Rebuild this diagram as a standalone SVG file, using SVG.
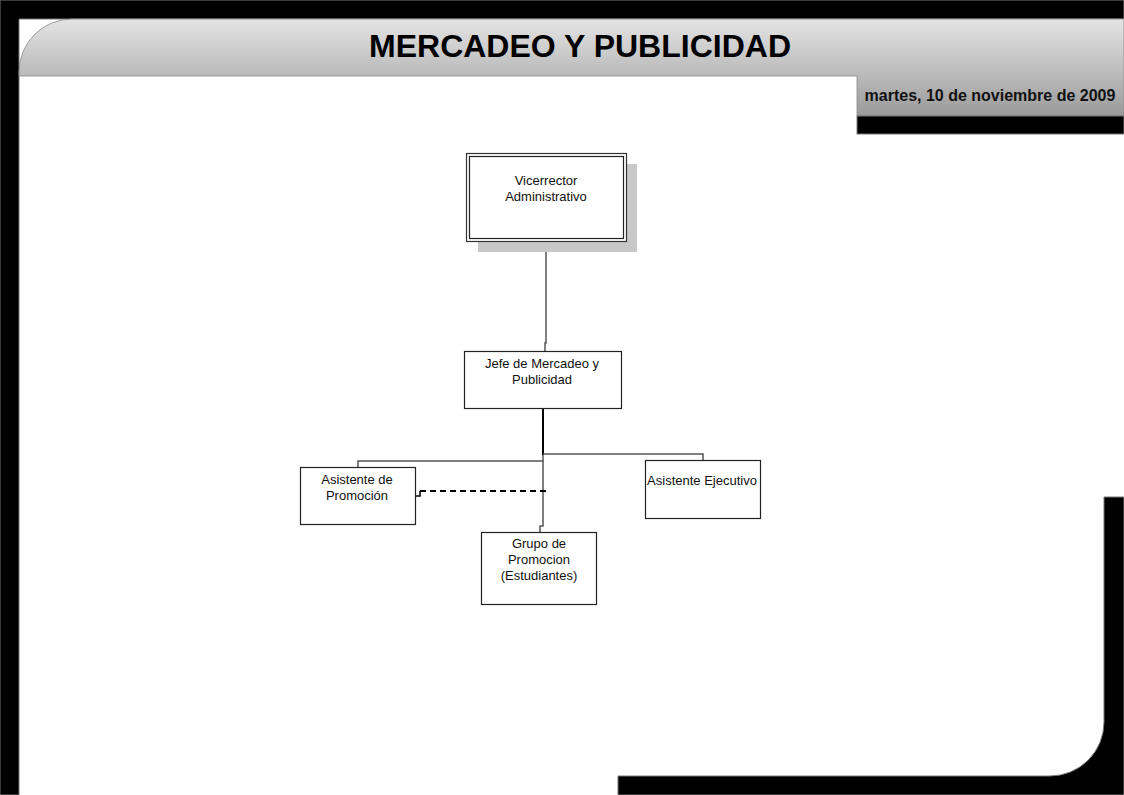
<svg xmlns="http://www.w3.org/2000/svg" width="1124" height="795" viewBox="0 0 1124 795">
<defs>
<linearGradient id="hdr" x1="0" y1="19" x2="0" y2="116" gradientUnits="userSpaceOnUse">
<stop offset="0" stop-color="#e4e4e4"/>
<stop offset="0.55" stop-color="#bcbcbc"/>
<stop offset="1" stop-color="#9a9a9a"/>
</linearGradient>
<style>
.frame{fill:#000;stroke:#777;stroke-width:1}
.box{fill:#fff;stroke:#222;stroke-width:1.2}
.lbl{font-family:"Liberation Sans",Arial,sans-serif;font-size:13px;fill:#111;text-anchor:middle}
.conn{fill:none;stroke:#555;stroke-width:1.5}
</style>
</defs>
<rect width="1124" height="795" fill="#fff"/>
<g id="frame">
<path class="frame" d="M0,0 H1124 V19 H19 V795 H0 Z"/>
<path d="M19,76 V72 A53,53 0 0 1 72,19 H1124 V116 H857 V76 Z" fill="url(#hdr)" stroke="#888" stroke-width="0.8"/>
<rect class="frame" x="857" y="116" width="267" height="18"/>
<path class="frame" d="M1104,497 H1124 V795 H618 V776 H1050 A54,54 0 0 0 1104,722 Z"/>
<text x="580" y="57" font-family="Liberation Sans,Arial,sans-serif" font-weight="bold" font-size="32" text-anchor="middle" fill="#000">MERCADEO Y PUBLICIDAD</text>
<text x="990" y="101" font-family="Liberation Sans,Arial,sans-serif" font-weight="bold" font-size="16" text-anchor="middle" fill="#111">martes, 10 de noviembre de 2009</text>
</g>
<g id="connectors">
<path class="conn" d="M546,241 V343 H545 V351"/>
<path fill="none" stroke="#000" stroke-width="2" d="M543,408 V455"/>
<path class="conn" d="M543,454 H703 V460"/>
<path class="conn" d="M543,455 V461 H358 V467"/>
<path class="conn" d="M543,461 V526 H540 V532"/>
<path fill="none" stroke="#000" stroke-width="1.5" d="M415,496 H420 V491"/>
<path fill="none" stroke="#000" stroke-width="2" stroke-dasharray="6,4" d="M420,491 H545 L547,494"/>
</g>
<g id="n-vicerrector">
<rect x="478" y="164" width="159" height="88" fill="#c8c8c8"/>
<rect x="466.5" y="153.5" width="160" height="88" fill="#fff" stroke="#333" stroke-width="1.2"/>
<rect x="469.5" y="156.5" width="154" height="82" fill="none" stroke="#222" stroke-width="1.2"/>
<text class="lbl" x="546" y="185">Vicerrector</text>
<text class="lbl" x="546" y="201">Administrativo</text>
</g>
<g id="n-jefe">
<rect class="box" x="464.5" y="351.5" width="157" height="57"/>
<text class="lbl" x="542" y="368">Jefe de Mercadeo y</text>
<text class="lbl" x="542" y="384">Publicidad</text>
</g>
<g id="n-asistente-promocion">
<rect class="box" x="300.5" y="467.5" width="115" height="57"/>
<text class="lbl" x="357" y="484">Asistente de</text>
<text class="lbl" x="357" y="500">Promoción</text>
</g>
<g id="n-asistente-ejecutivo">
<rect class="box" x="645.5" y="460.5" width="115" height="58" stroke="#444"/>
<text class="lbl" x="702" y="485">Asistente Ejecutivo</text>
</g>
<g id="n-grupo">
<rect class="box" x="481.5" y="532.5" width="115" height="72"/>
<text class="lbl" x="539" y="548">Grupo de</text>
<text class="lbl" x="539" y="564">Promocion</text>
<text class="lbl" x="539" y="580">(Estudiantes)</text>
</g>
</svg>
